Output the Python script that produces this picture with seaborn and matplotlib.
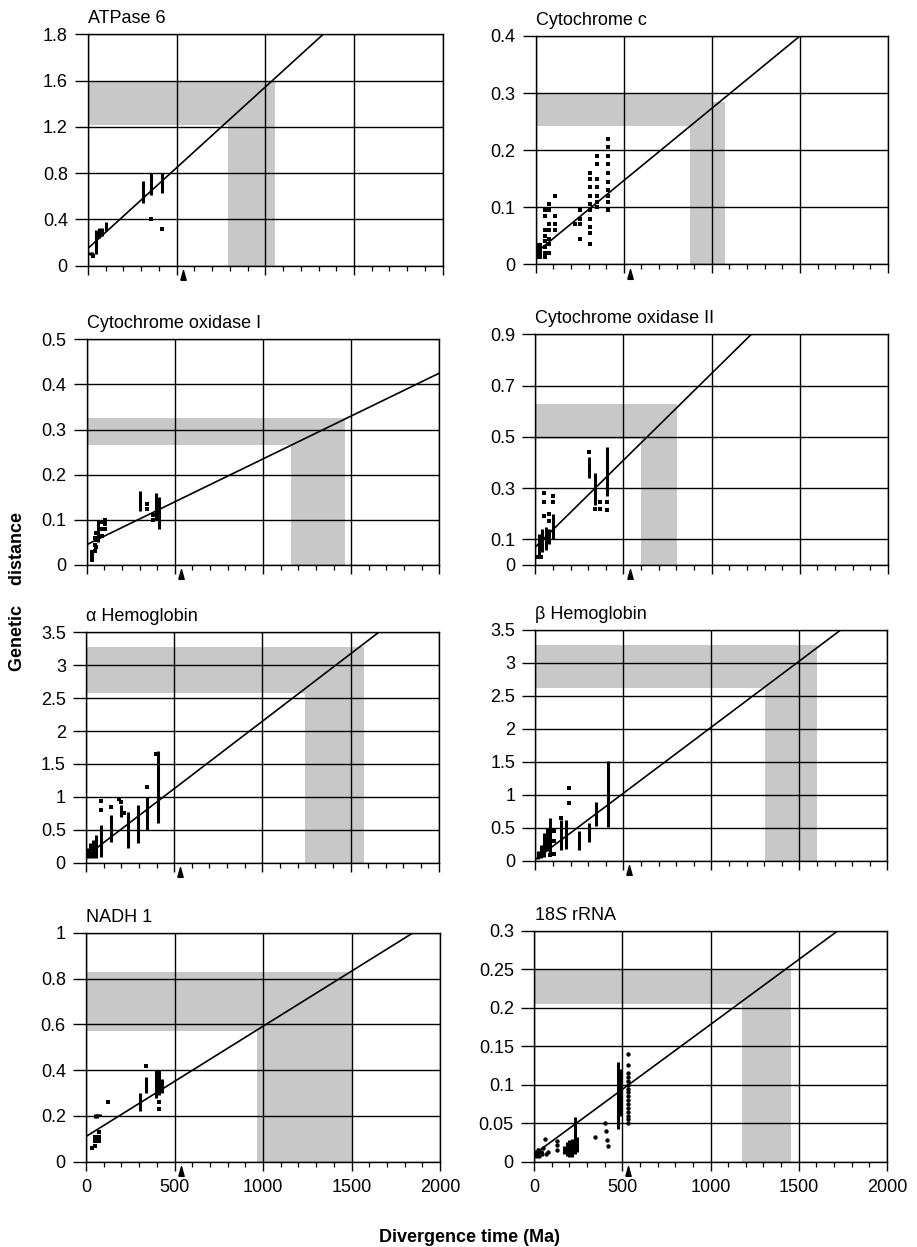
import matplotlib.pyplot as plt
import numpy as np
import pandas as pd
import seaborn as sns
from matplotlib.ticker import MultipleLocator
from matplotlib.transforms import ScaledTranslation

# ---------------- values ----------------
x_ticks = [0, 500, 1000, 1500, 2000]
x_ticklabels = ['0', '500', '1000', '1500', '2000']
cambrian = 535  # the small arrow under every x axis

# ATPase 6 (printed top label is 1.8 although spacing gives 2.0)
atp_yticks = [0, 0.4, 0.8, 1.2, 1.6, 2.0]
atp_ylabels = ['0', '0.4', '0.8', '1.2', '1.6', '1.8']
atp_pts_x = [30, 353, 417]
atp_pts_y = [0.08, 0.40, 0.32]
atp_bar_x = [12, 22, 45, 60, 80, 100, 308, 353, 417]
atp_bar_lo = [0.09, 0.09, 0.10, 0.24, 0.26, 0.30, 0.54, 0.61, 0.63]
atp_bar_hi = [0.12, 0.12, 0.31, 0.33, 0.33, 0.38, 0.73, 0.80, 0.80]
atp_line = [(0, 0.15), (1326, 2.0)]
atp_hband = (1.22, 1.60, 1055)
atp_vband = (790, 1055, 1.60)

# Cytochrome c
cytc_yticks = [0, 0.1, 0.2, 0.3, 0.4]
cytc_ylabels = ['0', '0.1', '0.2', '0.3', '0.4']
cytc_pts_x = ([10] * 4 + [25] * 4 + [55] * 8 + [74] * 7 + [112] * 4 + [225]
              + [250] * 4 + [306] * 10 + [350] * 7 + [410] * 10)
cytc_pts_y = ([0.012, 0.02, 0.027, 0.033] + [0.012, 0.02, 0.027, 0.033]
              + [0.095, 0.085, 0.06, 0.05, 0.04, 0.03, 0.02, 0.012]
              + [0.105, 0.095, 0.07, 0.06, 0.045, 0.035, 0.02]
              + [0.12, 0.085, 0.07, 0.06] + [0.07]
              + [0.095, 0.08, 0.07, 0.045]
              + [0.16, 0.15, 0.135, 0.12, 0.105, 0.095, 0.08, 0.065, 0.055, 0.035]
              + [0.19, 0.175, 0.15, 0.135, 0.12, 0.11, 0.10]
              + [0.22, 0.205, 0.19, 0.175, 0.16, 0.145, 0.13, 0.12, 0.11, 0.095])
cytc_bar_x, cytc_bar_lo, cytc_bar_hi = [], [], []
cytc_line = [(0, 0.02), (1500, 0.40)]
cytc_hband = (0.243, 0.298, 1000)
cytc_vband = (878, 1073, 0.285)

# Cytochrome oxidase I
cox1_yticks = [0, 0.1, 0.2, 0.3, 0.4, 0.5]
cox1_ylabels = ['0', '0.1', '0.2', '0.3', '0.4', '0.5']
cox1_pts_x = [30, 30, 30, 45, 45, 45, 55, 55, 55, 85, 85, 85, 105, 105, 105, 340, 340, 374, 374]
cox1_pts_y = [0.012, 0.02, 0.028, 0.03, 0.045, 0.06, 0.04, 0.055, 0.07, 0.065, 0.08, 0.095,
              0.08, 0.09, 0.10, 0.125, 0.135, 0.10, 0.11]
cox1_bar_x = [65, 302, 393, 412]
cox1_bar_lo = [0.05, 0.12, 0.10, 0.08]
cox1_bar_hi = [0.10, 0.163, 0.16, 0.15]
cox1_line = [(0, 0.045), (2000, 0.425)]
cox1_hband = (0.265, 0.325, 1465)
cox1_vband = (1161, 1465, 0.325)

# Cytochrome oxidase II
cox2_yticks = [0, 0.1, 0.3, 0.5, 0.7, 0.9]
cox2_ylabels = ['0', '0.1', '0.3', '0.5', '0.7', '0.9']
cox2_pts_x = [15, 30, 52, 52, 52, 75, 80, 100, 100, 306, 340, 366, 366, 405, 405]
cox2_pts_y = [0.03, 0.03, 0.28, 0.245, 0.19, 0.20, 0.17, 0.27, 0.245, 0.44, 0.22, 0.245, 0.22, 0.245, 0.215]
cox2_bar_x = [20, 40, 60, 80, 100, 306, 340, 405]
cox2_bar_lo = [0.04, 0.05, 0.06, 0.08, 0.10, 0.34, 0.235, 0.27]
cox2_bar_hi = [0.12, 0.14, 0.15, 0.14, 0.20, 0.42, 0.36, 0.46]
cox2_line = [(0, 0.07), (1225, 0.9)]
cox2_hband = (0.49, 0.63, 803)
cox2_vband = (599, 803, 0.63)

# alpha Hemoglobin
ahb_yticks = [0, 0.5, 1, 1.5, 2, 2.5, 3, 3.5]
ahb_ylabels = ['0', '0.5', '1', '1.5', '2', '2.5', '3', '3.5']
ahb_pts_x = [85, 85, 142, 187, 200, 215, 345, 395]
ahb_pts_y = [0.93, 0.80, 0.85, 0.97, 0.92, 0.75, 1.15, 1.65]
ahb_bar_x = [10, 25, 40, 55, 85, 142, 200, 240, 297, 345, 406]
ahb_bar_lo = [0.07, 0.07, 0.07, 0.07, 0.08, 0.32, 0.70, 0.22, 0.30, 0.50, 0.60]
ahb_bar_hi = [0.22, 0.30, 0.35, 0.42, 0.57, 0.73, 0.87, 0.77, 0.88, 1.00, 1.70]
ahb_line = [(0, 0.10), (1660, 3.5)]
ahb_hband = (2.58, 3.28, 1577)
ahb_vband = (1240, 1577, 3.28)

# beta Hemoglobin
bhb_yticks = ahb_yticks
bhb_ylabels = ahb_ylabels
bhb_pts_x = [85, 105, 105, 105, 147, 190, 190]
bhb_pts_y = [0.08, 0.10, 0.30, 0.45, 0.65, 1.10, 0.87]
bhb_bar_x = [15, 30, 50, 65, 85, 147, 175, 246, 303, 345, 413]
bhb_bar_lo = [0.02, 0.04, 0.06, 0.15, 0.12, 0.16, 0.17, 0.16, 0.28, 0.52, 0.51]
bhb_bar_hi = [0.15, 0.24, 0.42, 0.50, 0.65, 0.62, 0.62, 0.45, 0.57, 0.89, 1.52]
bhb_line = [(0, 0.02), (1735, 3.5)]
bhb_hband = (2.62, 3.28, 1600)
bhb_vband = (1307, 1600, 3.28)

# NADH 1
nadh_yticks = [0, 0.2, 0.4, 0.6, 0.8, 1.0]
nadh_ylabels = ['0', '0.2', '0.4', '0.6', '0.8', '1']
nadh_pts_x = [32, 50, 50, 50, 75, 75, 75, 126, 414, 414, 340]
nadh_pts_y = [0.06, 0.07, 0.09, 0.11, 0.09, 0.11, 0.13, 0.26, 0.26, 0.23, 0.42]
nadh_bar_x = [50, 60, 70, 80, 305, 340, 395, 414, 427]
nadh_bar_lo = [0.19, 0.19, 0.20, 0.20, 0.22, 0.30, 0.28, 0.29, 0.30]
nadh_bar_hi = [0.21, 0.21, 0.21, 0.21, 0.30, 0.37, 0.40, 0.40, 0.36]
nadh_line = [(0, 0.11), (1849, 1.0)]
nadh_hband = (0.57, 0.83, 1500)
nadh_vband = (968, 1500, 0.83)

# 18S rRNA
rrna_yticks = [0, 0.05, 0.1, 0.15, 0.2, 0.25, 0.3]
rrna_ylabels = ['0', '0.05', '0.1', '0.15', '0.2', '0.25', '0.3']
rrna_pts_x = ([10, 20, 30, 40, 50, 60, 70, 80, 130, 130, 130, 347, 404, 410, 415, 420]
              + [532] * 16)
rrna_pts_y = ([0.010, 0.015, 0.008, 0.012, 0.018, 0.029, 0.010, 0.012, 0.015, 0.022, 0.027,
               0.032, 0.050, 0.040, 0.028, 0.021]
              + [0.14, 0.125, 0.115, 0.11, 0.105, 0.10, 0.095, 0.09, 0.085, 0.08, 0.075,
                 0.07, 0.065, 0.06, 0.055, 0.05])
rrna_bar_x = [10, 25, 45, 170, 185, 200, 215, 230, 245, 478, 490]
rrna_bar_lo = [0.005, 0.007, 0.008, 0.010, 0.008, 0.006, 0.006, 0.010, 0.012, 0.042, 0.060]
rrna_bar_hi = [0.015, 0.018, 0.014, 0.020, 0.025, 0.028, 0.030, 0.058, 0.032, 0.130, 0.120]
rrna_line = [(0, 0.0095), (1722, 0.3)]
rrna_hband = (0.205, 0.25, 1458)
rrna_vband = (1178, 1458, 0.25)

# ---------------- style ----------------
sns.set_style("white")
plt.rcParams['font.family'] = ['Liberation Sans', 'DejaVu Sans']
plt.rcParams['mathtext.fontset'] = 'custom'
plt.rcParams['mathtext.rm'] = 'Liberation Sans'
plt.rcParams['mathtext.it'] = 'Liberation Sans:italic'
plt.rcParams['text.color'] = 'black'

SHADE = '#c8c8c8'
FS = 13
W, H = 917, 1247
fig = plt.figure(figsize=(W / 100, H / 100), dpi=100)

# pixel boxes (left, top, right, bottom) of each plotting area
panels = [
    ('ATPase 6', (88, 34.3, 442.7, 265.7), atp_yticks, atp_ylabels, atp_pts_x, atp_pts_y,
     atp_bar_x, atp_bar_lo, atp_bar_hi, atp_line, atp_hband, atp_vband, 's', False),
    ('Cytochrome c', (535.7, 36, 888, 264.3), cytc_yticks, cytc_ylabels, cytc_pts_x, cytc_pts_y,
     cytc_bar_x, cytc_bar_lo, cytc_bar_hi, cytc_line, cytc_hband, cytc_vband, 's', False),
    ('Cytochrome oxidase I', (86.7, 339.3, 439.3, 565), cox1_yticks, cox1_ylabels, cox1_pts_x, cox1_pts_y,
     cox1_bar_x, cox1_bar_lo, cox1_bar_hi, cox1_line, cox1_hband, cox1_vband, 's', False),
    ('Cytochrome oxidase II', (535.3, 334.3, 888, 565), cox2_yticks, cox2_ylabels, cox2_pts_x, cox2_pts_y,
     cox2_bar_x, cox2_bar_lo, cox2_bar_hi, cox2_line, cox2_hband, cox2_vband, 's', False),
    ('\u03b1 Hemoglobin', (86, 632.3, 438.7, 862.7), ahb_yticks, ahb_ylabels, ahb_pts_x, ahb_pts_y,
     ahb_bar_x, ahb_bar_lo, ahb_bar_hi, ahb_line, ahb_hband, ahb_vband, 's', False),
    ('\u03b2 Hemoglobin', (535.3, 630, 887.3, 860.7), bhb_yticks, bhb_ylabels, bhb_pts_x, bhb_pts_y,
     bhb_bar_x, bhb_bar_lo, bhb_bar_hi, bhb_line, bhb_hband, bhb_vband, 's', False),
    ('NADH 1', (86, 932.7, 440, 1161.7), nadh_yticks, nadh_ylabels, nadh_pts_x, nadh_pts_y,
     nadh_bar_x, nadh_bar_lo, nadh_bar_hi, nadh_line, nadh_hband, nadh_vband, 's', True),
    ('18$\\mathit{S}$ rRNA', (534, 930.7, 887, 1161.7), rrna_yticks, rrna_ylabels, rrna_pts_x, rrna_pts_y,
     rrna_bar_x, rrna_bar_lo, rrna_bar_hi, rrna_line, rrna_hband, rrna_vband, 'o', True),
]

arrow = [(-0.55, -1), (0.55, -1), (0, 1), (-0.55, -1)]

for (title, box, yt, yl, px, py, bx, blo, bhi, line, hband, vband, mk, bottom) in panels:
    l, t, r, b = box
    ax = fig.add_axes([l / W, 1 - b / H, (r - l) / W, (b - t) / H])

    # shaded ranges
    ax.fill_between([0, hband[2]], hband[0], hband[1], color=SHADE, lw=0, zorder=0.2)
    ax.fill_between([vband[0], vband[1]], 0, vband[2], color=SHADE, lw=0, zorder=0.2)

    # data
    if bx:
        ax.vlines(bx, blo, bhi, color='black', lw=2.2, zorder=3)
    sns.scatterplot(x=px, y=py, marker=mk, s=8 if mk == 's' else 10, color='black',
                    linewidth=0, ax=ax, zorder=3)
    sns.lineplot(x=[line[0][0], line[1][0]], y=[line[0][1], line[1][1]],
                 color='black', lw=1.2, ax=ax, zorder=4)

    # arrow below axis
    tr = ax.get_xaxis_transform() + ScaledTranslation(0, -9.5 / 100, fig.dpi_scale_trans)
    ax.plot([cambrian], [0], transform=tr, marker=arrow, ms=7, color='black',
            lw=0, clip_on=False)

    ax.set_xlim(0, 2000)
    ax.set_ylim(0, yt[-1])
    ax.set_xticks(x_ticks)
    ax.set_xticklabels(x_ticklabels if bottom else [])
    ax.xaxis.set_minor_locator(MultipleLocator(100))
    ax.set_yticks(yt)
    ax.set_yticklabels(yl)
    ax.set_xlabel('')
    ax.set_ylabel('')
    ax.grid(True, which='major', color='black', lw=1.0)
    ax.set_axisbelow(True)
    for s in ax.spines.values():
        s.set_color('black')
        s.set_linewidth(1.0)
    ax.tick_params(axis='y', which='major', left=True, direction='out', length=9.5,
                   width=1.0, pad=5, labelsize=FS, colors='black')
    ax.tick_params(axis='x', which='major', bottom=True, direction='out', length=6.5,
                   width=1.0, pad=6, labelsize=FS, colors='black', labelbottom=bottom)
    ax.tick_params(axis='x', which='minor', bottom=True, direction='out', length=3.6,
                   width=0.9, colors='black')
    ax.set_title(title, loc='left', fontsize=FS, pad=8, color='black')

fig.text(18 / W, 1 - 591.5 / H, 'Genetic    distance', rotation=90, fontsize=FS,
         fontweight='bold', ha='center', va='center', color='black')
fig.text(470 / W, 1 - 1237 / H, 'Divergence time (Ma)', fontsize=FS,
         fontweight='bold', ha='center', va='center', color='black')

fig.savefig('out.png', dpi=100)
